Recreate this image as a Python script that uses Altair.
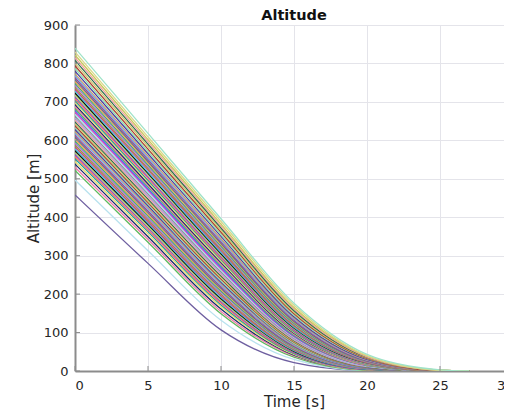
import altair as alt
import pandas as pd

# knot times [s]
times = [0, 5, 10, 15, 20, 25, 27]

# altitude [m] of each run at the knot times
h_t0 = [458, 497, 522, 530, 538, 545, 552, 558, 563, 568, 573, 578, 583, 588, 593,
        598, 603, 608, 613, 618, 623, 628, 633, 638, 643, 648, 653, 658, 663, 668,
        673, 678, 683, 688, 693, 698, 703, 708, 713, 718, 723, 728, 733, 738, 743,
        748, 753, 758, 763, 768, 773, 780, 787, 794, 801, 808, 815, 822, 830, 840]
h_t5 = [280, 313, 335, 342, 349, 356, 362, 367, 372, 376, 381, 385, 389, 394, 398,
        403, 407, 412, 416, 421, 425, 430, 434, 438, 443, 447, 452, 456, 461, 465,
        470, 474, 479, 483, 487, 492, 496, 501, 505, 510, 514, 518, 523, 527, 532,
        536, 541, 545, 550, 554, 559, 565, 571, 577, 584, 590, 596, 602, 609, 618]
h_t10 = [107, 132, 149, 155, 161, 167, 172, 176, 180, 184, 188, 192, 196, 200, 204,
         208, 212, 215, 219, 223, 227, 231, 235, 239, 243, 247, 251, 254, 258, 262,
         266, 270, 274, 278, 282, 286, 290, 293, 297, 301, 305, 309, 313, 317, 321,
         325, 329, 332, 336, 340, 344, 350, 355, 361, 366, 372, 377, 382, 389, 396]
h_t15 = [22, 30, 36, 39, 41, 43, 45, 47, 48, 50, 51, 53, 55, 56, 58,
         60, 62, 63, 65, 67, 69, 71, 72, 75, 77, 79, 81, 83, 85, 87,
         89, 91, 93, 96, 98, 100, 102, 105, 107, 110, 112, 114, 117, 119, 122,
         124, 127, 129, 132, 135, 138, 141, 145, 149, 153, 157, 161, 165, 171, 176]
h_t20 = [1, 1, 2, 3, 3, 3, 4, 4, 4, 5, 5, 5, 6, 6, 6,
         7, 7, 7, 8, 8, 9, 9, 10, 10, 11, 11, 12, 12, 13, 13,
         14, 15, 15, 16, 17, 17, 18, 19, 19, 20, 21, 22, 22, 23, 24,
         25, 26, 26, 27, 28, 29, 30, 32, 33, 35, 36, 37, 39, 40, 43]
h_t25 = [0, 0, 0, 0, 0, 0, 0, 0, 0, 0, 0, 0, 0, 0, 0,
         0, 0, 0, 0, 0, 0, 0, 0, 0, 0, 0, 0, 0, 0, 0,
         0, 0, 0, 0, 0, 0, 0, 0, 0, 0, 0, 0, 0, 0, 1,
         1, 1, 1, 1, 1, 1, 1, 1, 1, 2, 2, 2, 2, 2, 3]
h_t27 = [0] * len(h_t0)

palette = ["#e040c0", "#4a6cf0", "#5cb85c", "#f07aa8", "#1a2a6c", "#e8e070",
           "#2aa198", "#ff7060", "#8a4fc8", "#b5d96b", "#111111", "#40c8e0",
           "#d04080", "#9a9a3a", "#b070e0", "#3cb371", "#f0a050", "#607090",
           "#a04a90", "#70a8e8", "#c8a070", "#4b3ca0", "#90e0b0", "#b04030",
           "#d0c870", "#2f6f4f", "#f0a0a0", "#b0a0e0", "#909090", "#a0e8f0"]

n = len(h_t0)
colors = [palette[i % len(palette)] for i in range(n)]
colors[0] = "#6e5fa0"
colors[1] = "#b8e2ee"
colors[n - 1] = "#9fe3c8"
colors[n - 2] = "#d8d88a"
colors[n - 3] = "#c9c95a"

rows = []
for i in range(n):
    vals = [h_t0[i], h_t5[i], h_t10[i], h_t15[i], h_t20[i], h_t25[i], h_t27[i]]
    for t, v in zip(times, vals):
        rows.append({"run": i, "t": t, "alt": v})
df = pd.DataFrame(rows)

x_ticks = [0, 5, 10, 15, 20, 25, 30]
y_ticks = [0, 100, 200, 300, 400, 500, 600, 700, 800, 900]
title_text = ["Altitude"]

xscale = alt.Scale(domain=[0, 30], nice=False, zero=False)
yscale = alt.Scale(domain=[0, 900], nice=False)

FONT = "DejaVu Sans"
TXT = "#262626"

x_axis = alt.Axis(values=x_ticks, title="Time [s]", labelPadding=8, titlePadding=2,
                  ticks=False, tickSize=0, format="d", labelOverlap=False)
y_axis = alt.Axis(values=y_ticks, title="Altitude [m]", labelPadding=7, titlePadding=2,
                  ticks=False, tickSize=0, format="d", labelOverlap=False)

lines = alt.Chart(df).mark_line(interpolate="monotone", strokeWidth=1.3, clip=True).encode(
    x=alt.X("t:Q", scale=xscale, axis=x_axis),
    y=alt.Y("alt:Q", scale=yscale, axis=y_axis),
    color=alt.Color("run:N", scale=alt.Scale(domain=list(range(n)), range=colors), legend=None),
)

xt = pd.DataFrame({"t": x_ticks})
yt = pd.DataFrame({"alt": y_ticks})
xtick_layer = alt.Chart(xt).mark_rule(color="#8c8c8c", strokeWidth=1).encode(
    x=alt.X("t:Q", scale=xscale, axis=x_axis), y=alt.value(346), y2=alt.value(341))
ytick_layer = alt.Chart(yt).mark_rule(color="#8c8c8c", strokeWidth=1).encode(
    y=alt.Y("alt:Q", scale=yscale, axis=y_axis), x=alt.value(0), x2=alt.value(5))

title_layer = alt.Chart(pd.DataFrame({"label": title_text})).mark_text(
    font=FONT, fontSize=14.5, fontWeight="bold", color="#111111",
    align="center", baseline="alphabetic").encode(
    text="label:N", x=alt.value(219), y=alt.value(-5))

chart = alt.layer(lines, xtick_layer, ytick_layer, title_layer).properties(
    width=438, height=346,
    autosize=alt.AutoSizeParams(type="none"),
    padding={"left": 67, "top": 17, "right": -9, "bottom": 40},
).configure_view(stroke=None).configure_axis(
    labelFont=FONT, labelFontSize=13, labelColor=TXT,
    titleFont=FONT, titleFontSize=15, titleFontWeight="normal", titleColor=TXT,
    gridColor="#e4e4ea", gridWidth=1, domainColor="#8c8c8c", domainWidth=2,
)

chart.save("out.html", embed_options={"renderer": "svg", "actions": False})
